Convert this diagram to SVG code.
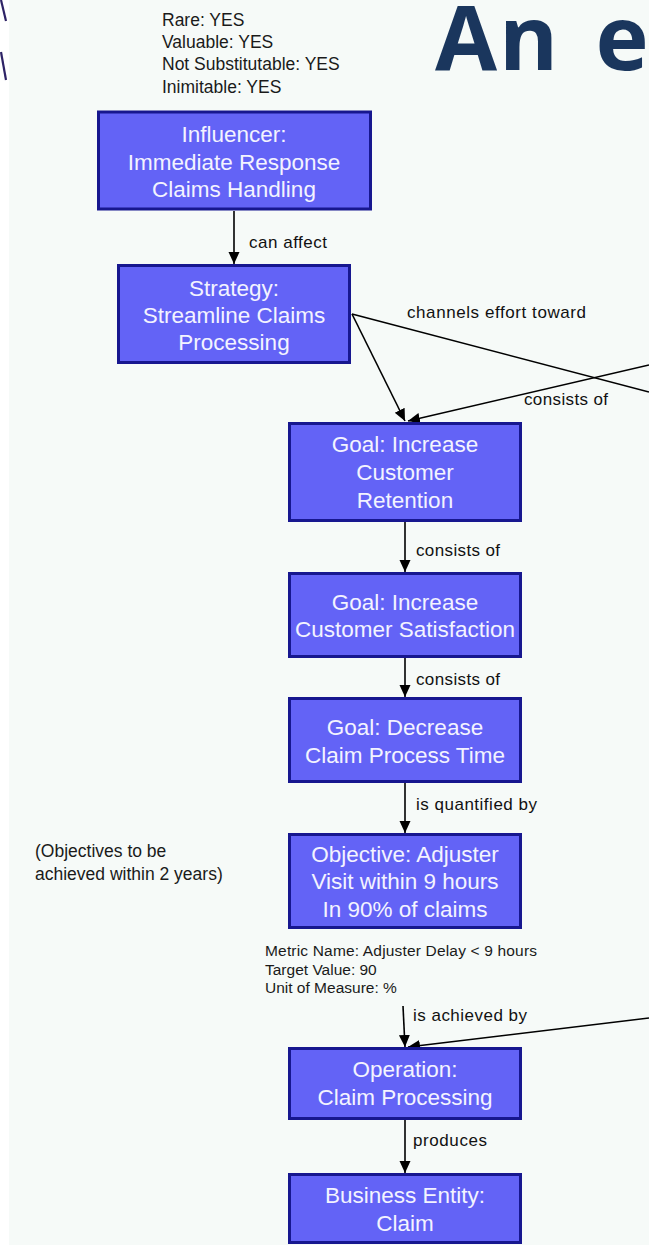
<svg xmlns="http://www.w3.org/2000/svg" width="649" height="1245" viewBox="0 0 649 1245">
  <style>
    .box { fill: #6363f6; stroke: #17178f; stroke-width: 3; }
    .bt { font-family: "Liberation Sans", Arial, sans-serif; font-size: 22.5px; fill: #f3f3ff; text-anchor: middle; }
    .lbl { font-family: "Liberation Sans", Arial, sans-serif; font-size: 17px; fill: #111111; }
    .note { font-family: "Liberation Sans", Arial, sans-serif; font-size: 17.5px; fill: #1a1a1a; }
    .small { font-family: "Liberation Sans", Arial, sans-serif; font-size: 15.5px; fill: #1a1a1a; }
    .edge { stroke: #000000; stroke-width: 1.6; fill: none; }
  </style>
  <defs>
    <marker id="arrow" markerUnits="userSpaceOnUse" markerWidth="13" markerHeight="12" refX="12" refY="5.5" orient="auto">
      <path d="M0,0 L12,5.5 L0,11 z" fill="#000000"/>
    </marker>
  </defs>

  <!-- page and panel background -->
  <rect x="0" y="0" width="649" height="1245" fill="#ffffff"/>
  <rect x="9" y="0" width="640" height="1245" fill="#f6faf8"/>

  <!-- cut-off slide lettering at the left edge -->
  <g stroke="#2e2366" stroke-width="2.2" fill="none">
    <path d="M1 0 L6 21"/>
    <path d="M1 52 L6 80"/>
  </g>

  <!-- heading -->
  <text x="435" y="70" font-family="'Open Sans', 'Liberation Sans', sans-serif" font-weight="bold" font-size="90" word-spacing="10" letter-spacing="2" fill="#1a365d">An e</text>

  <!-- resource attributes -->
  <g id="attributes">
    <text class="note" x="162" y="26">Rare: YES</text>
    <text class="note" x="162" y="48">Valuable: YES</text>
    <text class="note" x="162" y="70">Not Substitutable: YES</text>
    <text class="note" x="162" y="93">Inimitable: YES</text>
  </g>

  <!-- connectors -->
  <g id="connectors">
    <path class="edge" d="M234 211 L234 264" marker-end="url(#arrow)"/>
    <path class="edge" d="M352 314 L405 421" marker-end="url(#arrow)"/>
    <path class="edge" d="M352 314 L649 392"/>
    <path class="edge" d="M649 365 L408 421" marker-end="url(#arrow)"/>
    <path class="edge" d="M405 522 L405 572" marker-end="url(#arrow)"/>
    <path class="edge" d="M405 658 L405 697" marker-end="url(#arrow)"/>
    <path class="edge" d="M405 783 L405 833" marker-end="url(#arrow)"/>
    <path class="edge" d="M403 1006 L405 1047" marker-end="url(#arrow)"/>
    <path class="edge" d="M649 1018 L408 1047" marker-end="url(#arrow)"/>
    <path class="edge" d="M405 1120 L405 1173" marker-end="url(#arrow)"/>

    <text class="lbl" x="249" y="248" textLength="78">can affect</text>
    <text class="lbl" x="407" y="318" textLength="179">channels effort toward</text>
    <text class="lbl" x="524" y="405" textLength="84">consists of</text>
    <text class="lbl" x="416" y="556" textLength="84">consists of</text>
    <text class="lbl" x="416" y="685" textLength="84">consists of</text>
    <text class="lbl" x="416" y="810" textLength="121">is quantified by</text>
    <text class="lbl" x="413" y="1021" textLength="114">is achieved by</text>
    <text class="lbl" x="413" y="1146" textLength="74">produces</text>
  </g>

  <g id="influencer">
    <rect class="box" x="98.5" y="112" width="272" height="97"/>
    <text class="bt" x="234" y="142">Influencer:</text>
    <text class="bt" x="234" y="170">Immediate Response</text>
    <text class="bt" x="234" y="197">Claims Handling</text>
  </g>

  <g id="strategy">
    <rect class="box" x="118.5" y="265.5" width="231" height="97"/>
    <text class="bt" x="234" y="296">Strategy:</text>
    <text class="bt" x="234" y="323">Streamline Claims</text>
    <text class="bt" x="234" y="350">Processing</text>
  </g>

  <g id="goal-retention">
    <rect class="box" x="289.5" y="423.5" width="231" height="97"/>
    <text class="bt" x="405" y="452">Goal: Increase</text>
    <text class="bt" x="405" y="480">Customer</text>
    <text class="bt" x="405" y="508">Retention</text>
  </g>

  <g id="goal-satisfaction">
    <rect class="box" x="289.5" y="573.5" width="231" height="83"/>
    <text class="bt" x="405" y="610">Goal: Increase</text>
    <text class="bt" x="405" y="637" textLength="220">Customer Satisfaction</text>
  </g>

  <g id="goal-process-time">
    <rect class="box" x="289.5" y="698.5" width="231" height="83"/>
    <text class="bt" x="405" y="735">Goal: Decrease</text>
    <text class="bt" x="405" y="763">Claim Process Time</text>
  </g>

  <g id="objective">
    <rect class="box" x="289.5" y="834.5" width="231" height="93"/>
    <text class="bt" x="405" y="862">Objective: Adjuster</text>
    <text class="bt" x="405" y="889">Visit within 9 hours</text>
    <text class="bt" x="405" y="917">In 90% of claims</text>
  </g>

  <g id="objective-note">
    <text class="note" x="35" y="857" font-size="16.5">(Objectives to be</text>
    <text class="note" x="35" y="880" font-size="16.5">achieved within 2 years)</text>
  </g>

  <g id="metric">
    <text class="small" x="265" y="956" textLength="272">Metric Name: Adjuster Delay &lt; 9 hours</text>
    <text class="small" x="265" y="975">Target Value: 90</text>
    <text class="small" x="265" y="993">Unit of Measure: %</text>
  </g>

  <g id="operation">
    <rect class="box" x="289.5" y="1048.5" width="231" height="70"/>
    <text class="bt" x="405" y="1077">Operation:</text>
    <text class="bt" x="405" y="1105">Claim Processing</text>
  </g>

  <g id="business-entity">
    <rect class="box" x="289.5" y="1174.5" width="231" height="68"/>
    <text class="bt" x="405" y="1203">Business Entity:</text>
    <text class="bt" x="405" y="1231">Claim</text>
  </g>
</svg>
